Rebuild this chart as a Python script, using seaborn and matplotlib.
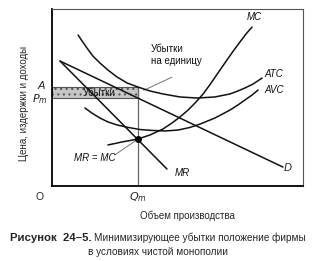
import matplotlib
matplotlib.use("Agg")
import matplotlib.pyplot as plt
import seaborn as sns
import pandas as pd

# ---- data (quantity units, cost units) ----
atc_q = [1.04, 1.20, 1.39, 1.63, 1.91, 2.23, 2.59, 2.99, 3.43, 3.90, 4.42, 5.10, 5.78,
         6.49, 7.09, 7.41, 7.69, 8.01, 8.37]
atc_p = [8.53, 8.19, 7.80, 7.34, 6.95, 6.55, 6.16, 5.82, 5.59, 5.37, 5.20, 5.03, 4.97,
         5.03, 5.20, 5.37, 5.54, 5.76, 6.10]

avc_q = [1.31, 1.59, 1.91, 2.23, 2.59, 3.03, 3.51, 3.98, 4.50, 5.02, 5.50, 5.90, 6.49,
         7.09, 7.41, 7.69, 7.97, 8.21]
avc_p = [4.41, 4.12, 3.84, 3.62, 3.45, 3.31, 3.19, 3.14, 3.11, 3.16, 3.31, 3.50, 3.84,
         4.29, 4.58, 4.86, 5.14, 5.42]

mc_q = [2.23, 2.51, 2.79, 3.11, 3.43, 3.90, 4.42, 4.78, 5.10, 5.42, 5.70, 6.02, 6.29,
        6.61, 6.97, 7.25, 7.49, 7.73, 7.97]
mc_p = [2.32, 2.40, 2.49, 2.57, 2.66, 2.88, 3.22, 3.56, 3.90, 4.29, 4.69, 5.20, 5.72,
        6.38, 7.12, 7.68, 8.14, 8.59, 8.98]

d_q = [0.32, 9.20]
d_p = [7.06, 1.07]

mr_q = [0.32, 4.58]
mr_p = [7.06, 0.96]

Qm = 3.43
A_level = 5.59
Pm_level = 4.97
MRMC_p = 2.66

curve_labels = ["MC", "ATC", "AVC", "D", "MR"]

frames = []
for name, q, p in [("ATC", atc_q, atc_p), ("AVC", avc_q, avc_p), ("MC", mc_q, mc_p),
                   ("D", d_q, d_p), ("MR", mr_q, mr_p)]:
    frames.append(pd.DataFrame({"q": q, "p": p, "curve": name}))
df = pd.concat(frames, ignore_index=True)

sns.set_theme(style="white")
plt.rcParams["font.family"] = ["Liberation Sans", "DejaVu Sans"]
plt.rcParams["hatch.color"] = "#a8a8a8"
plt.rcParams["hatch.linewidth"] = 0.8

W, H = 318, 261
fig = plt.figure(figsize=(W / 100, H / 100), dpi=100)
ax = fig.add_axes([52 / W, 1 - 186 / H, 251 / W, 177 / H])

# loss rectangle
ax.fill_between([0, Qm], Pm_level, A_level, facecolor="#c6c6c6", edgecolor="#555555",
                linewidth=0.8, hatch="...", zorder=1)
# vertical Qm line
ax.plot([Qm, Qm], [0, A_level], color="#666666", lw=0.9, zorder=2)

for name in ["ATC", "AVC", "MC", "D", "MR"]:
    sub = df[df.curve == name]
    sns.lineplot(data=sub, x="q", y="p", sort=False, estimator=None, color="#111111",
                 lw=1.1, ax=ax, zorder=3)

# MR = MC point
ax.plot([Qm], [MRMC_p], "o", color="black", ms=4, zorder=4)

ax.set_xlim(0, 10)
ax.set_ylim(0, 10)
ax.set_xticks([])
ax.set_yticks([])
ax.set_xlabel("")
ax.set_ylabel("")
for s in ["left", "bottom"]:
    ax.spines[s].set_color("black")
    ax.spines[s].set_linewidth(1.3)
for s in ["top", "right"]:
    ax.spines[s].set_color("#555555")
    ax.spines[s].set_linewidth(0.8)

fs = 7
it = dict(fontsize=fs, style="italic", color="#111111")
ax.text(8.05, 9.55, curve_labels[0], ha="center", va="center", **it)
ax.text(8.85, 6.35, curve_labels[1], ha="center", va="center", **it)
ax.text(8.85, 5.40, curve_labels[2], ha="center", va="center", **it)
ax.text(9.37, 1.00, curve_labels[3], ha="center", va="center", fontsize=8, style="italic")
ax.text(5.20, 0.75, curve_labels[4], ha="center", va="center", **it)

ax.text(Qm / 2 + 0.15, (A_level + Pm_level) / 2, "Убытки", ha="center", va="center",
        fontsize=fs, color="#111111", zorder=5)
ax.text(3.95, 7.40, "Убытки\nна единицу", ha="left", va="center", fontsize=fs,
        linespacing=1.25, color="#111111")
ax.plot([4.78, 3.65], [6.15, 5.40], color="#777777", lw=0.7)

ax.text(1.70, 1.60, "MR = MC", ha="center", va="center", **it)
ax.plot([2.50, Qm], [1.75, MRMC_p], color="#777777", lw=0.7)

ax.text(-0.42, 5.66, "A", ha="center", va="center", fontsize=8, style="italic", clip_on=False)
ax.text(-0.50, 4.90, "$P_m$", ha="center", va="center", fontsize=8, clip_on=False)
ax.text(Qm, -0.65, "$Q_m$", ha="center", va="center", fontsize=8, clip_on=False)
ax.text(-0.48, -0.62, "O", ha="center", va="center", fontsize=7.5, clip_on=False)

fig.text(24 / W, 1 - 103 / H, "Цена, издержки и доходы", rotation=90, ha="center",
         va="center", fontsize=fs)
fig.text(187 / W, 1 - 216 / H, "Объем производства", ha="center", va="center", fontsize=fs)
fig.text(10 / W, 1 - 238 / H, "Рисунок  24–5.", ha="left", va="center", fontsize=8.2,
         fontweight="bold")
fig.text(94 / W, 1 - 238 / H, "Минимизирующее убытки положение фирмы", ha="left",
         va="center", fontsize=7.2)
fig.text(88 / W, 1 - 252 / H, "в условиях чистой монополии", ha="left", va="center",
         fontsize=7.2)

fig.savefig("out.png", dpi=100)
